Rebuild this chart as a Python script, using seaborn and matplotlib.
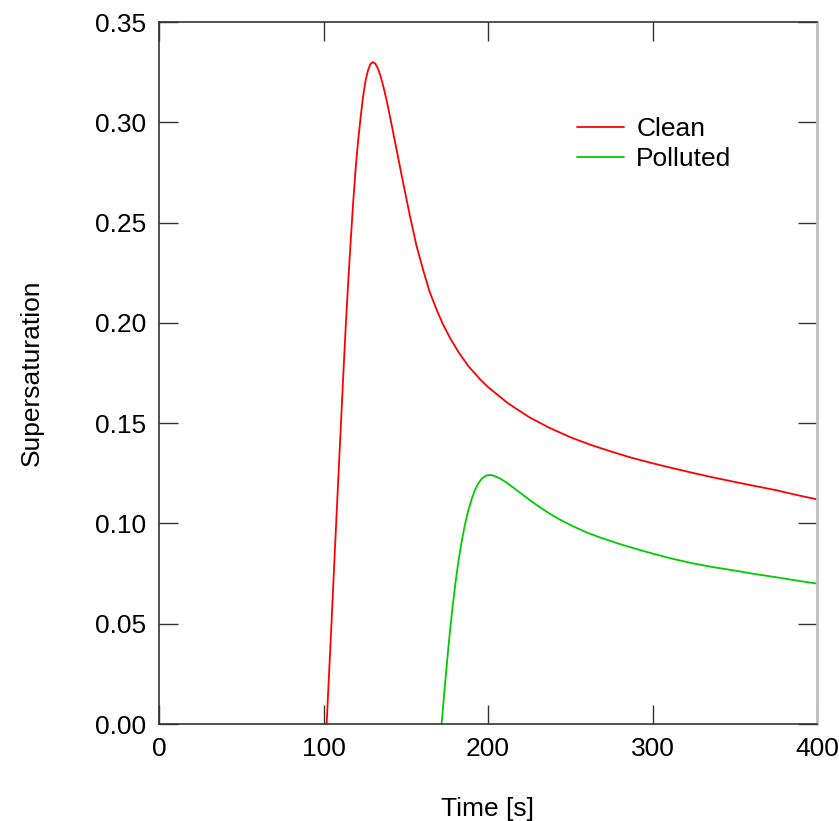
import matplotlib
matplotlib.use("Agg")
import matplotlib.pyplot as plt
import seaborn as sns
import pandas as pd

# Clean case
clean_t = [101.9, 104.5, 107.0, 109.5, 112.0, 113.5, 115.0, 116.5, 118.0, 119.5, 121.0,
           122.5, 124.0, 125.5, 127.0, 128.5, 130.0, 131.5, 133.0, 134.5, 136.5, 138.5,
           140.5, 142.5, 144.5, 146.5, 148.5, 150.5, 152.5, 156.5, 160.7, 164.5, 168.8,
           172.5, 176.9, 182.0, 188.0, 195.0, 200.0, 212.0, 225.0, 237.0, 250.0, 262.0,
           275.0, 287.0, 300.0, 312.0, 325.0, 337.0, 350.0, 362.0, 375.0, 387.0, 400.0]
clean_s = [0.000, 0.044, 0.088, 0.131, 0.1735, 0.198, 0.220, 0.2405, 0.2595, 0.2765, 0.2905,
           0.3020, 0.3125, 0.3205, 0.3258, 0.3290, 0.3300, 0.3292, 0.3270, 0.3235, 0.3175, 0.3105,
           0.3025, 0.2943, 0.2860, 0.2777, 0.2695, 0.2615, 0.2535, 0.2385, 0.2260, 0.2155, 0.2065,
           0.1995, 0.1925, 0.1855, 0.1785, 0.1720, 0.1680, 0.1600, 0.1530, 0.1478, 0.1430, 0.1393,
           0.1358, 0.1328, 0.1300, 0.1276, 0.1251, 0.1229, 0.1207, 0.1187, 0.1166, 0.1143, 0.1120]

# Polluted case
poll_t = [171.8, 174.0, 176.0, 178.0, 180.0, 182.0, 184.0, 186.0, 188.0, 190.0, 192.0,
          194.0, 196.0, 198.0, 200.0, 202.0, 204.0, 207.0, 211.4, 216.0, 223.5, 229.0,
          235.7, 243.0, 251.9, 260.0, 268.1, 280.2, 290.0, 300.0, 312.0, 325.0, 337.0,
          350.0, 362.0, 375.0, 387.0, 400.0]
poll_s = [0.000, 0.021, 0.039, 0.055, 0.069, 0.081, 0.091, 0.0995, 0.1065, 0.1120, 0.1165,
          0.1198, 0.1221, 0.1235, 0.1241, 0.1241, 0.1236, 0.1226, 0.1203, 0.1175, 0.1128, 0.1095,
          0.1058, 0.1022, 0.0985, 0.0955, 0.0930, 0.0897, 0.0873, 0.0850, 0.0824, 0.0800, 0.0782,
          0.0765, 0.0748, 0.0732, 0.0716, 0.0700]

series_names = ["Clean", "Polluted"]
series_colors = ["#ff0000", "#00cc00"]

df = pd.concat([
    pd.DataFrame({"Time": clean_t, "S": clean_s, "Case": series_names[0]}),
    pd.DataFrame({"Time": poll_t, "S": poll_s, "Case": series_names[1]}),
])

sns.set_theme(style="white")
plt.rcParams["font.family"] = ["Liberation Sans", "DejaVu Sans"]

fig = plt.figure(figsize=(8.39, 8.21), dpi=100)
ax = fig.add_axes([159 / 839, 1 - 724 / 821, (817 - 159) / 839, (724 - 22) / 821])

sns.lineplot(data=df, x="Time", y="S", hue="Case", palette=series_colors,
             hue_order=series_names, ax=ax, linewidth=1.3, sort=False, estimator=None)

ax.set_xlim(0, 400)
ax.set_ylim(0, 0.35)
yt = [0.0, 0.05, 0.10, 0.15, 0.20, 0.25, 0.30, 0.35]
ax.set_xticks([0, 100, 200, 300, 400])
ax.set_yticks(yt)
ax.set_yticklabels([f"{v:.2f}" for v in yt])
ax.tick_params(direction="in", length=14, width=1, color="#333333",
               top=True, right=True, bottom=True, left=True,
               labelsize=19, labelcolor="black")
ax.tick_params(axis="x", pad=9)
ax.tick_params(axis="y", pad=9)

for side in ["left", "bottom", "top"]:
    ax.spines[side].set_color("#333333")
    ax.spines[side].set_linewidth(1.2)
ax.spines["right"].set_color("#c0c0c0")
ax.spines["right"].set_linewidth(2)

ax.set_xlabel("Time [s]", fontsize=19, labelpad=26, color="black")
ax.set_ylabel("Supersaturation", fontsize=19, labelpad=37, color="black")

leg = ax.legend(loc="center left", bbox_to_anchor=((577 - 159) / 658, (724 - 144) / 702),
                frameon=False, fontsize=19, handlelength=1.8, handletextpad=0.45,
                labelspacing=0.24, borderaxespad=0, borderpad=0, title=None)
for txt in leg.get_texts():
    txt.set_color("black")

fig.savefig("out.png", dpi=100)
